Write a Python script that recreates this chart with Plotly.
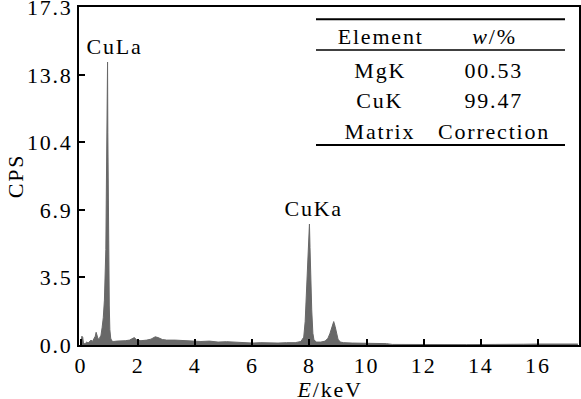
import plotly.graph_objects as go

energy_kev = [0.00, 0.03, 0.06, 0.09, 0.15, 0.20, 0.25, 0.30, 0.35, 0.40, 0.45, 0.50, 0.53, 0.56, 0.60,
              0.65, 0.70, 0.74, 0.78, 0.82, 0.85, 0.87, 0.89, 0.91, 0.93, 0.94, 0.95, 0.97, 0.99, 1.01,
              1.04, 1.08, 1.15, 1.25, 1.40, 1.55, 1.70, 1.80, 1.87, 1.95, 2.10, 2.30, 2.45, 2.60, 2.70,
              2.85, 3.00, 3.30, 3.60, 3.90, 4.20, 4.50, 4.80, 5.10, 5.40, 5.70, 6.00, 6.30, 6.60, 6.90,
              7.20, 7.50, 7.70, 7.80, 7.85, 7.90, 7.94, 7.97, 8.00, 8.02, 8.05, 8.08, 8.12, 8.16, 8.25,
              8.40, 8.55, 8.65, 8.72, 8.78, 8.85, 8.90, 8.95, 9.00, 9.08, 9.20, 9.50, 9.80, 10.10, 10.40,
              10.70, 10.90, 11.50, 12.50, 13.50, 14.50, 15.00, 15.50, 16.00, 16.50, 17.00, 17.40]
cps = [0.05, 0.45, 0.40, 0.05, 0.08, 0.15, 0.10, 0.20, 0.25, 0.18, 0.30, 0.45, 0.65, 0.50, 0.30,
       0.35, 0.50, 0.90, 1.40, 2.30, 4.00, 4.90, 8.30, 10.90, 14.50, 10.90, 7.80, 4.50, 2.00, 0.80,
       0.35, 0.20, 0.18, 0.20, 0.20, 0.22, 0.25, 0.35, 0.38, 0.25, 0.22, 0.25, 0.30, 0.42, 0.38,
       0.28, 0.25, 0.25, 0.22, 0.22, 0.18, 0.20, 0.15, 0.17, 0.14, 0.13, 0.10, 0.12, 0.10, 0.10,
       0.12, 0.12, 0.18, 0.40, 1.20, 3.00, 4.10, 5.50, 6.20, 5.00, 3.00, 1.80, 0.60, 0.25, 0.15,
       0.15, 0.20, 0.35, 0.60, 0.90, 1.20, 0.95, 0.55, 0.30, 0.15, 0.12, 0.10, 0.10, 0.08, 0.08,
       0.07, 0.03, 0.02, 0.02, 0.02, 0.03, 0.05, 0.04, 0.05, 0.06, 0.04, 0.05]

x_ticks = [0, 2, 4, 6, 8, 10, 12, 14, 16]
y_tickvals = [0.0, 3.46, 6.92, 10.38, 13.84, 17.3]
y_ticktext = ["0.0", "3.5", "6.9", "10.4", "13.8", "17.3"]

peak_labels = ["CuLa", "CuKa"]
peak_label_x = [1.17, 8.16]
peak_label_y = [15.3, 7.0]

table_header = ["Element", "<i>w</i>/%"]
table_elements = ["MgK", "CuK", "Matrix"]
table_values = ["00.53", "99.47", "Correction"]

FONT = "Liberation Serif"
FS = 22
fig = go.Figure()
fig.add_trace(go.Scatter(x=energy_kev, y=cps, mode="lines", fill="tozeroy",
                         line=dict(color="#686868", width=1), fillcolor="#686868",
                         showlegend=False, hoverinfo="skip"))

for t, xx, yy in zip(peak_labels, peak_label_x, peak_label_y):
    fig.add_annotation(x=xx, y=yy, text=t, showarrow=False, xref="x", yref="y",
                       xanchor="center", yanchor="middle",
                       font=dict(family=FONT, size=FS, color="black"))

# table
col_x = [0.602, 0.830]
row_y = [0.914, 0.811, 0.722, 0.633]
def cell(x, y, text):
    fig.add_annotation(x=x, y=y, xref="paper", yref="paper", text=text, showarrow=False,
                       xanchor="center", yanchor="middle",
                       font=dict(family=FONT, size=FS, color="black"))
for c, h in enumerate(table_header):
    cell(col_x[c], row_y[0], h)
for r, (e, v) in enumerate(zip(table_elements, table_values)):
    cell(col_x[0], row_y[r + 1], e)
    cell(col_x[1], row_y[r + 1], v)
for yy, w in [(0.964, 2), (0.873, 1.5), (0.592, 2)]:
    fig.add_shape(type="line", xref="paper", yref="paper", x0=0.474, x1=0.972, y0=yy, y1=yy,
                  line=dict(color="black", width=w))

# x-axis title placed just below the tick labels
fig.add_annotation(x=0.5, y=0, xref="paper", yref="paper", text="<i>E</i>/keV", showarrow=False,
                   xanchor="center", yanchor="top", yshift=-30,
                   font=dict(family=FONT, size=FS, color="black"))

fig.update_layout(
    width=581, height=399,
    margin=dict(l=79, r=2, t=7, b=54, autoexpand=False),
    paper_bgcolor="white", plot_bgcolor="white",
    font=dict(family=FONT, size=FS, color="black"),
    xaxis=dict(range=[-0.07, 17.44], tickvals=x_ticks, ticks="inside", ticklen=6, tickwidth=2,
               tickcolor="black", showline=True, linecolor="black", linewidth=2, mirror=True,
               showgrid=False, zeroline=False, automargin=False,
               tickfont=dict(size=FS)),
    yaxis=dict(range=[0, 17.32], tickvals=y_tickvals, ticktext=y_ticktext, ticks="inside", ticklen=6,
               tickwidth=2, tickcolor="black", showline=True, linecolor="black", linewidth=2,
               mirror=True, showgrid=False, zeroline=False, automargin=False,
               ticklabeloverflow="allow",
               title=dict(text="CPS", standoff=4, font=dict(size=FS)),
               tickfont=dict(size=FS)),
)

page_js = ("document.body.style.margin='0';"
           "document.querySelectorAll('.main-svg text').forEach("
           "function(t){t.setAttribute('letter-spacing','1.8px');});")
fig.write_html("out.html", post_script=page_js, config={"displayModeBar": False})
